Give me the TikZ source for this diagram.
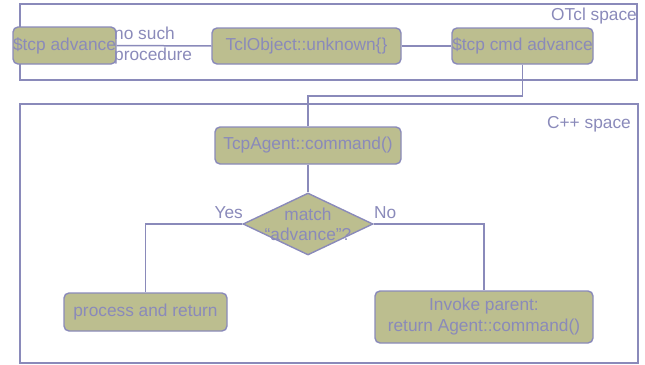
\documentclass[tikz,border=0pt]{standalone}
\usepackage{fontspec}
\setmainfont{Liberation Sans}
\usetikzlibrary{shapes.geometric}
\definecolor{edgec}{RGB}{138,138,186}
\definecolor{boxfill}{RGB}{188,190,143}
\begin{document}
\begin{tikzpicture}[x=1pt,y=-1pt,
  every node/.style={font=\fontsize{17.3}{21}\selectfont, text=edgec},
  frame/.style={draw=edgec, line width=1.5pt},
  link/.style={draw=edgec, line width=1.5pt},
  stepbox/.style={draw=edgec, line width=1.4pt, fill=boxfill,
    rounded corners=5pt, inner sep=0pt, align=center},
  decision/.style={diamond, draw=edgec, line width=1.4pt, fill=boxfill,
    inner sep=0pt, minimum width=130pt, minimum height=62pt},
  tag/.style={inner sep=0pt}]
\useasboundingbox (0,0) rectangle (645,364);

% the two spaces
\draw[frame] (20,4) rectangle (637,80);
\draw[frame] (20,104) rectangle (638,363);
\node[tag, anchor=east] (otcl) at (637,16) {OTcl space};
\node[tag, anchor=east] (cpp) at (631,124) {C++ space};

% OTcl side
\coordinate (turn) at (522.5,96);

\node[stepbox, minimum width=99pt, minimum height=37pt] (tcpadv) at (64.5,45.5) {\$tcp advance};
\node[stepbox, minimum width=189pt, minimum height=36pt] (unknown) at (306.5,46) {TclObject::unknown\{\}};
\node[stepbox, minimum width=141pt, minimum height=36pt] (cmdadv) at (522.5,46) {\$tcp cmd advance};

\draw[link] (tcpadv.east) -- (unknown.west);
\draw[link] (unknown.east) -- (cmdadv.west);
\node[tag, anchor=west, align=left] (nosuch) at (114,46) {no such\\procedure};

% C++ side
\node[stepbox, minimum width=186pt, minimum height=37pt] (tcpagent) at (308,145.5) {TcpAgent::command()};
\draw[link] (cmdadv.south) -- (turn) -| (tcpagent.north);

\node[decision] (dec) at (308,224) {};
\node[tag, align=center, font=\fontsize{17.3}{20}\selectfont] (dectext) at (dec.center) {match\\“advance”?};
\draw[link] (tcpagent.south) -- (dec.north);

\node[stepbox, minimum width=163pt, minimum height=38pt] (process) at (145.5,312) {process and return};
\node[stepbox, minimum width=218pt, minimum height=52pt] (invoke) at (484,317) {Invoke parent:\\return Agent::command()};

\draw[link] (dec.west) -| (process.north);
\draw[link] (dec.east) -| (invoke.north);
\node[tag, anchor=east] (yes) at (243,213) {Yes};
\node[tag, anchor=west] (no) at (374,213) {No};
\end{tikzpicture}
\end{document}
